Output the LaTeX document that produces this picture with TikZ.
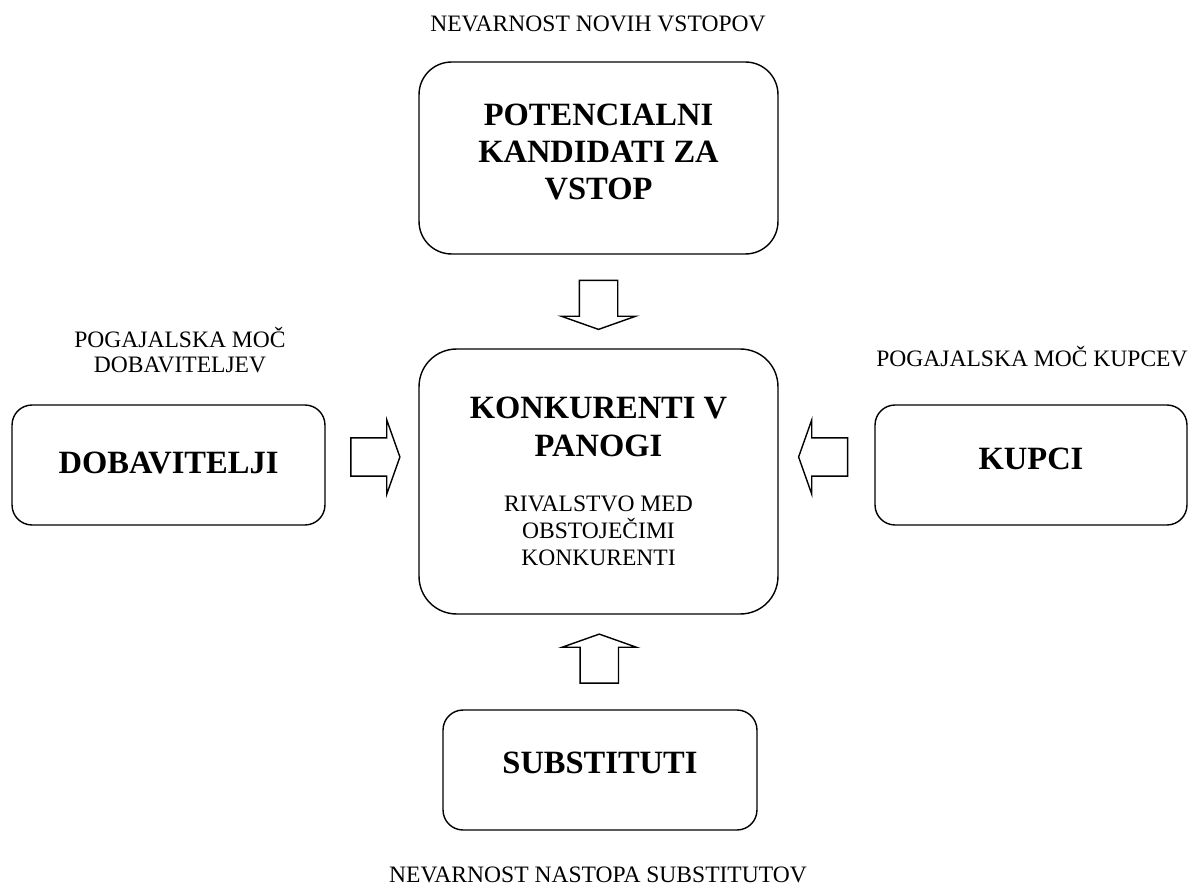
\documentclass[tikz,border=0pt]{standalone}
\usepackage{fontspec}
\setmainfont{Liberation Serif}
\usetikzlibrary{shapes.arrows,calc}

\begin{document}
\begin{tikzpicture}[x=0.02cm,y=-0.02cm]
\tikzset{okvir/.style={draw, line width=0.8pt, align=flush center, font=\bfseries\fontsize{18.5}{21.3}\selectfont},
  napis/.style={align=center, font=\fontsize{13.4}{14.5}\selectfont},
  puscica/.style={draw, line width=0.8pt, single arrow, single arrow head extend=0.36cm, single arrow tip angle=141, minimum height=0.98cm, minimum width=0pt, inner xsep=0pt, inner ysep=0.37cm}}
\useasboundingbox (0,0) rectangle (1190,888);
\node[okvir, rounded corners=0.65cm, minimum width=7.18cm, minimum height=3.84cm, text width=6.6cm, text height=0.5cm, text depth=1.82cm] (pot) at (598.5,158) {POTENCIALNI\\KANDIDATI ZA\\VSTOP};
\node[okvir, rounded corners=0.75cm, minimum width=7.18cm, minimum height=5.3cm, text width=6.6cm] (konk) at (598.5,481.5) {KONKURENTI V\\PANOGI\par\vspace{16.3pt}{\mdseries\fontsize{13.4}{15.3}\selectfont RIVALSTVO MED\\OBSTOJEČIMI\\KONKURENTI\par}};
\node[okvir, rounded corners=0.4cm, minimum width=6.26cm, minimum height=2.4cm, text depth=0.08cm] (dob) at (168.5,465) {DOBAVITELJI};
\node[okvir, rounded corners=0.4cm, minimum width=6.24cm, minimum height=2.4cm, text depth=0.26cm] (kup) at (1031,465) {KUPCI};
\node[okvir, rounded corners=0.4cm, minimum width=6.28cm, minimum height=2.4cm, text depth=0.28cm] (sub) at (600,770) {SUBSTITUTI};
\node[napis] (n1) at (598,24) {NEVARNOST NOVIH VSTOPOV};
\node[napis] (n2) at (180,350) {POGAJALSKA MOČ\\DOBAVITELJEV};
\node[napis] (n3) at (1032,357) {POGAJALSKA MOČ KUPCEV};
\node[napis] (n4) at (598,875) {NEVARNOST NASTOPA SUBSTITUTOV};
\node[puscica, rotate=-90] (a1) at ($(pot.south)!0.5!(konk.north)$) {};
\node[puscica, yshift=0.16cm] (a2) at ($(dob.east)!0.5!(dob.east -| konk.west)$) {};
\node[puscica, yshift=0.16cm, rotate=180] (a3) at ($(kup.west)!0.5!(kup.west -| konk.east)$) {};
\node[puscica, rotate=90] (a4) at ($(sub.north)!0.5!(konk.south)$) {};
\end{tikzpicture}
\end{document}
